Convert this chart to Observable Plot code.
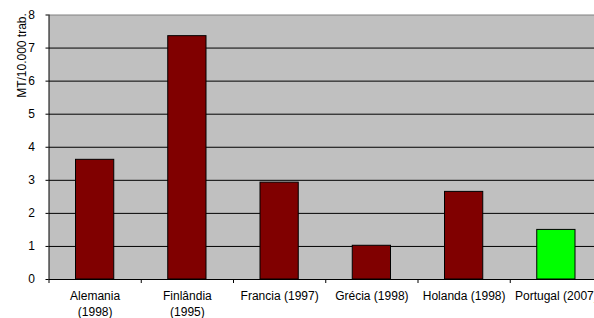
<!DOCTYPE html>
<html>
<head>
<meta charset="utf-8">
<script src="https://cdn.jsdelivr.net/npm/d3@7"></script>
<script src="https://cdn.jsdelivr.net/npm/@observablehq/plot@0.6"></script>
<style>
  html, body { margin: 0; padding: 0; background: #fff; }
</style>
</head>
<body>
<div id="chart"></div>
<script>
const categories = ["Alemania\n(1998)", "Finlândia\n(1995)", "Francia (1997)", "Grécia (1998)", "Holanda (1998)", "Portugal (2007)"];
const values = [3.62, 7.36, 2.93, 1.02, 2.65, 1.50];
const barColors = ["#800000", "#800000", "#800000", "#800000", "#800000", "#00ff00"];
const yTicks = [0, 1, 2, 3, 4, 5, 6, 7, 8];
const yLabel = "MT/10.000 trab.";

const data = categories.map((c, i) => ({i, c, v: values[i], color: barColors[i]}));
const boundaries = d3.range(categories.length + 1);

const chart = Plot.plot({
  width: 594,
  height: 318,
  marginLeft: 48.5,
  marginRight: 0,
  marginTop: 14.5,
  marginBottom: 39,
  x: {domain: [0, categories.length], range: [48.5, 602], axis: null},
  y: {domain: [0, 8], axis: null},
  style: {fontFamily: "'Liberation Sans', Arial, sans-serif", fontSize: "12px", background: "white", color: "#000"},
  marks: [
    Plot.frame({fill: "#c0c0c0", stroke: null}),
    Plot.gridY(yTicks.filter(t => t > 0 && t < 8), {stroke: "#000", strokeOpacity: 1}),
    Plot.ruleY([8], {stroke: "#808080"}),
    Plot.rectY(data, {x1: "i", x2: d => d.i + 1, y: "v", fill: "color", stroke: "#000", strokeWidth: 1, insetLeft: 27, insetRight: 27}),
    Plot.ruleY([0], {stroke: "#000"}),
    Plot.ruleX([0], {stroke: "#000"}),
    Plot.axisY(yTicks, {tickSize: 3, tickPadding: 11, label: null, fontSize: 12, stroke: "#000"}),
    Plot.axisX(boundaries, {tickSize: 4, tickFormat: () => "", label: null, stroke: "#000"}),
    Plot.text(data, {x: d => d.i + 0.5, text: "c", frameAnchor: "bottom", lineAnchor: "top", dy: 9.5, lineHeight: 1.3, fontSize: 12, fill: "#000"}),
    Plot.text([yLabel], {text: d => d, frameAnchor: "top-left", dx: -32, dy: 40.5, rotate: -90, textAnchor: "middle", fontSize: 12, fill: "#000"})
  ]
});
document.getElementById("chart").appendChild(chart);
</script>
</body>
</html>
